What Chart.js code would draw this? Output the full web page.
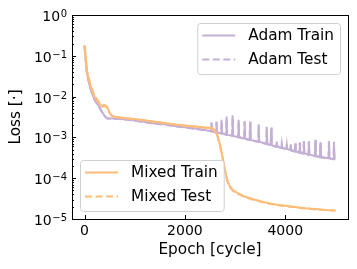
<!DOCTYPE html>
<html>
<head>
<meta charset="utf-8">
<script src="https://cdn.jsdelivr.net/npm/chart.js@4"></script>
<style>
  html, body { margin: 0; padding: 0; background: #fff; }
</style>
</head>
<body>
<canvas id="chart" width="357" height="269"></canvas>
<script>
// Mixed optimiser run (epochs + losses)
const mixedEpochs = [0, 25, 50, 75, 100, 150, 200, 250, 300, 350, 400, 450, 500, 550, 600, 800, 1000, 1200, 1400, 1600, 1800, 2000, 2200, 2400, 2550, 2600, 2650, 2700, 2750, 2800, 2850, 2900, 2950, 3000, 3200, 3400, 3600, 3800, 4000, 4200, 4400, 4600, 4800, 5000];
const mixedTrain = [0.18, 0.09, 0.04, 0.03, 0.022, 0.014, 0.0098, 0.0079, 0.0066, 0.0056, 0.0059, 0.0056, 0.0040, 0.0033, 0.0032, 0.0030, 0.00282, 0.00262, 0.00242, 0.00224, 0.00208, 0.00196, 0.00186, 0.00176, 0.00168, 0.00145, 0.0011, 6.5e-4, 3.3e-4, 1.6e-4, 8.5e-5, 6.3e-5, 5.2e-5, 4.7e-5, 3.5e-5, 2.95e-5, 2.55e-5, 2.28e-5, 2.12e-5, 1.97e-5, 1.84e-5, 1.75e-5, 1.67e-5, 1.62e-5];
const mixedTest = [0.17, 0.085, 0.043, 0.032, 0.024, 0.015, 0.0105, 0.0084, 0.0071, 0.0062, 0.0063, 0.0054, 0.0039, 0.0034, 0.0031, 0.00296, 0.00279, 0.0026, 0.00239, 0.00221, 0.00206, 0.00193, 0.00184, 0.00173, 0.00165, 0.0014, 0.00105, 6.2e-4, 3.1e-4, 1.5e-4, 8.0e-5, 6.0e-5, 5.0e-5, 4.5e-5, 3.4e-5, 2.85e-5, 2.5e-5, 2.22e-5, 2.08e-5, 1.93e-5, 1.8e-5, 1.72e-5, 1.65e-5, 1.6e-5];

// Adam run, with the periodic spikes after ~2500 epochs
const adamEpochs = [0, 25, 50, 100, 150, 200, 250, 300, 350, 400, 450, 500, 600, 800, 1000, 1200, 1400, 1600, 1800, 2000, 2200, 2400,
  2520, 2530, 2540, 2620, 2630, 2640, 2720, 2730, 2740, 2820, 2830, 2840, 2940, 2950, 2960,
  3060, 3070, 3080, 3180, 3190, 3200, 3290, 3300, 3310, 3460, 3470, 3480, 3620, 3630, 3640,
  3710, 3720, 3730, 3820, 3830, 3840, 3920, 3930, 3940, 4020, 4030, 4040, 4100, 4110, 4120,
  4190, 4200, 4210, 4280, 4290, 4300, 4360, 4370, 4380, 4460, 4470, 4480, 4590, 4600, 4610,
  4690, 4700, 4710, 4860, 4870, 4880, 4960, 4970, 4980, 5000];
const adamTrain = [0.18, 0.075, 0.036, 0.019, 0.012, 0.0085, 0.0068, 0.0055, 0.0042, 0.0034, 0.0030, 0.0029, 0.0029, 0.0028, 0.0026, 0.0024, 0.0022, 0.0021, 0.0019, 0.00178, 0.00165, 0.00151,
  1.42e-3, 2.34e-3, 1.40e-3, 1.33e-3, 2.45e-3, 1.32e-3, 1.27e-3, 2.69e-3, 1.26e-3, 1.18e-3, 3.24e-3, 1.17e-3, 1.10e-3, 3.47e-3, 1.09e-3,
  1.03e-3, 2.69e-3, 1.02e-3, 9.4e-4, 2.51e-3, 9.3e-4, 8.8e-4, 2.45e-3, 8.7e-4, 7.9e-4, 2.09e-3, 7.8e-4, 7.0e-4, 1.82e-3, 6.9e-4,
  6.5e-4, 1.74e-3, 6.4e-4, 6.0e-4, 7.9e-4, 6.0e-4, 5.6e-4, 7.2e-4, 5.6e-4, 5.2e-4, 6.8e-4, 5.2e-4, 4.9e-4, 6.8e-4, 4.9e-4,
  4.6e-4, 7.2e-4, 4.6e-4, 4.3e-4, 7.6e-4, 4.3e-4, 4.1e-4, 8.1e-4, 4.1e-4, 3.8e-4, 8.1e-4, 3.8e-4, 3.5e-4, 8.7e-4, 3.5e-4,
  3.3e-4, 7.6e-4, 3.3e-4, 3.1e-4, 8.1e-4, 3.1e-4, 2.95e-4, 7.8e-4, 2.95e-4, 2.9e-4];
const adamTest = [0.17, 0.07, 0.034, 0.0185, 0.0118, 0.0083, 0.0066, 0.0053, 0.0041, 0.0033, 0.0029, 0.00285, 0.00285, 0.00275, 0.00255, 0.00235, 0.00216, 0.00205, 0.00186, 0.00175, 0.00162, 0.00148,
  1.40e-3, 2.2e-3, 1.38e-3, 1.31e-3, 2.3e-3, 1.30e-3, 1.25e-3, 2.5e-3, 1.24e-3, 1.16e-3, 3.0e-3, 1.15e-3, 1.08e-3, 3.2e-3, 1.07e-3,
  1.01e-3, 2.5e-3, 1.00e-3, 9.2e-4, 2.35e-3, 9.1e-4, 8.6e-4, 2.3e-3, 8.5e-4, 7.7e-4, 1.95e-3, 7.6e-4, 6.9e-4, 1.7e-3, 6.8e-4,
  6.4e-4, 1.6e-3, 6.3e-4, 5.9e-4, 7.6e-4, 5.9e-4, 5.5e-4, 7.0e-4, 5.5e-4, 5.1e-4, 6.6e-4, 5.1e-4, 4.8e-4, 6.6e-4, 4.8e-4,
  4.5e-4, 7.0e-4, 4.5e-4, 4.2e-4, 7.3e-4, 4.2e-4, 4.0e-4, 7.8e-4, 4.0e-4, 3.7e-4, 7.8e-4, 3.7e-4, 3.45e-4, 8.3e-4, 3.45e-4,
  3.25e-4, 7.3e-4, 3.25e-4, 3.05e-4, 7.8e-4, 3.05e-4, 2.9e-4, 7.5e-4, 2.9e-4, 2.85e-4];

const xTicks = [0, 2000, 4000];
const yTicks = [1e-5, 1e-4, 1e-3, 1e-2, 1e-1, 1];
const yTickExponents = ['\u22125', '\u22124', '\u22123', '\u22122', '\u22121', '0'];

const PURPLE = '#c5b0d5';
const ORANGE = '#ffbb78';
const FONT = 'DejaVu Sans';
const LABEL_SIZE = 15.3;
const TICK_SIZE = 14;

const toPoints = (xs, ys) => xs.map((x, i) => ({ x, y: ys[i] }));

function roundRect(ctx, x, y, w, h, r) {
  ctx.beginPath();
  ctx.moveTo(x + r, y);
  ctx.lineTo(x + w - r, y);
  ctx.arcTo(x + w, y, x + w, y + r, r);
  ctx.lineTo(x + w, y + h - r);
  ctx.arcTo(x + w, y + h, x + w - r, y + h, r);
  ctx.lineTo(x + r, y + h);
  ctx.arcTo(x, y + h, x, y + h - r, r);
  ctx.lineTo(x, y + r);
  ctx.arcTo(x, y, x + r, y, r);
  ctx.closePath();
}

// matplotlib-style frame, inward ticks and 10^n labels
const frameTicks = {
  id: 'frameTicks',
  afterDatasetsDraw(chart) {
    const { ctx, chartArea: a, scales: { x, y } } = chart;
    ctx.save();
    ctx.strokeStyle = '#000';
    ctx.lineWidth = 1;
    ctx.strokeRect(Math.round(a.left) + 0.5, Math.round(a.top) + 0.5,
      Math.round(a.right - a.left), Math.round(a.bottom - a.top));
    ctx.beginPath();
    for (let k = -5; k <= 0; k++) {
      const py = Math.round(y.getPixelForValue(Math.pow(10, k))) + 0.5;
      ctx.moveTo(a.left, py); ctx.lineTo(a.left + 4, py);
      if (k < 0) {
        for (let m = 2; m <= 9; m++) {
          const my = Math.round(y.getPixelForValue(m * Math.pow(10, k))) + 0.5;
          ctx.moveTo(a.left, my); ctx.lineTo(a.left + 2, my);
        }
      }
    }
    xTicks.forEach(v => {
      const px = Math.round(x.getPixelForValue(v)) + 0.5;
      ctx.moveTo(px, a.bottom); ctx.lineTo(px, a.bottom - 4);
    });
    ctx.stroke();

    // y labels: "10" plus a raised exponent
    ctx.fillStyle = '#000';
    ctx.textBaseline = 'alphabetic';
    ctx.textAlign = 'right';
    yTicks.forEach((v, i) => {
      const py = y.getPixelForValue(v);
      const right = a.left - 5;
      ctx.font = '10px "' + FONT + '"';
      const expW = ctx.measureText(yTickExponents[i]).width;
      ctx.fillText(yTickExponents[i], right, py + 2);
      ctx.font = TICK_SIZE + 'px "' + FONT + '"';
      ctx.fillText('10', right - expW - 0.5, py + 6);
    });
    ctx.restore();
  }
};

// two legend boxes, like the original figure
const twoLegends = {
  id: 'twoLegends',
  afterDraw(chart) {
    const { ctx, chartArea: a } = chart;
    const ds = chart.data.datasets;
    const groups = [
      { items: [ds[0], ds[1]], corner: 'tr' },
      { items: [ds[2], ds[3]], corner: 'bl' }
    ];
    ctx.save();
    ctx.font = LABEL_SIZE + 'px "' + FONT + '"';
    groups.forEach(g => {
      const textW = Math.max(...g.items.map(d => ctx.measureText(d.label).width));
      const w = 51 + textW + 6;
      const h = 51;
      const bx = g.corner === 'tr' ? a.right - 8 - w : a.left + 8;
      const by = g.corner === 'tr' ? a.top + 8 : a.bottom - 8 - h;
      roundRect(ctx, bx + 0.5, by + 0.5, w, h, 3);
      ctx.fillStyle = 'rgba(255,255,255,0.8)';
      ctx.fill();
      ctx.strokeStyle = '#d0d0d0';
      ctx.lineWidth = 1;
      ctx.stroke();
      g.items.forEach((d, i) => {
        const ry = by + 12.5 + i * 24;
        ctx.beginPath();
        ctx.setLineDash(d.borderDash || []);
        ctx.strokeStyle = d.borderColor;
        ctx.lineWidth = d.borderWidth;
        ctx.moveTo(bx + 5, ry); ctx.lineTo(bx + 38, ry);
        ctx.stroke();
        ctx.setLineDash([]);
        ctx.fillStyle = '#000';
        ctx.textBaseline = 'middle';
        ctx.fillText(d.label, bx + 51, ry + 1);
      });
    });
    ctx.restore();
  }
};

new Chart(document.getElementById('chart').getContext('2d'), {
  type: 'line',
  data: {
    datasets: [
      { label: 'Adam Train', data: toPoints(adamEpochs, adamTrain), borderColor: PURPLE, borderWidth: 2, pointRadius: 0, order: 3 },
      { label: 'Adam Test', data: toPoints(adamEpochs, adamTest), borderColor: PURPLE, borderWidth: 2, borderDash: [7, 3.5], pointRadius: 0, order: 2 },
      { label: 'Mixed Train', data: toPoints(mixedEpochs, mixedTrain), borderColor: ORANGE, borderWidth: 2, pointRadius: 0, order: 1 },
      { label: 'Mixed Test', data: toPoints(mixedEpochs, mixedTest), borderColor: ORANGE, borderWidth: 2, borderDash: [7, 3.5], pointRadius: 0, order: 0 }
    ]
  },
  options: {
    responsive: false,
    animation: false,
    layout: { padding: { top: 15, right: 9, left: 0, bottom: 0 } },
    plugins: { legend: { display: false }, tooltip: { enabled: false } },
    scales: {
      x: {
        type: 'linear', min: -250, max: 5250,
        afterBuildTicks: s => { s.ticks = xTicks.map(v => ({ value: v })); },
        afterFit: s => { s.height = 50; },
        grid: { display: false, drawTicks: false },
        border: { display: false },
        ticks: { color: '#000', font: { family: FONT, size: TICK_SIZE }, padding: 4, maxRotation: 0, callback: v => String(v) },
        title: { display: true, text: 'Epoch [cycle]', color: '#000', font: { family: FONT, size: LABEL_SIZE }, padding: { top: 2, bottom: 10 } }
      },
      y: {
        type: 'logarithmic', min: 1e-5, max: 1,
        afterBuildTicks: s => { s.ticks = yTicks.map(v => ({ value: v })); },
        afterFit: s => { s.width = 72; },
        grid: { display: false, drawTicks: false },
        border: { display: false },
        ticks: { display: false },
        title: { display: true, text: 'Loss [\u00B7]', color: '#000', font: { family: FONT, size: LABEL_SIZE }, padding: { top: 7, bottom: 0 } }
      }
    }
  },
  plugins: [frameTicks, twoLegends]
});
</script>
</body>
</html>
